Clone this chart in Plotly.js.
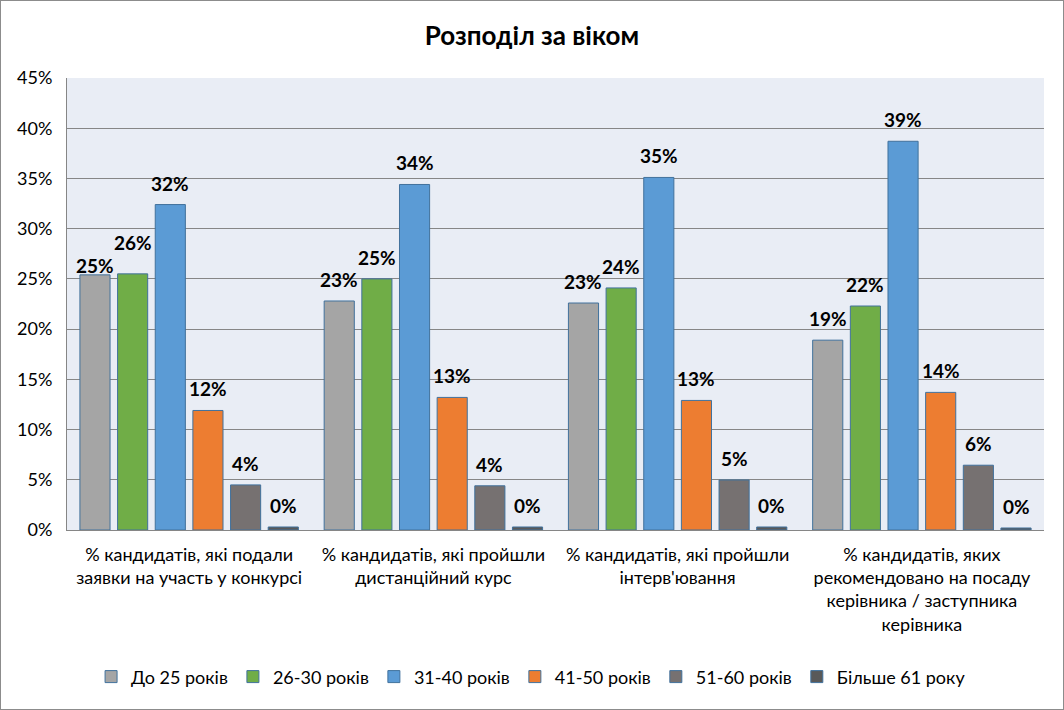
<!DOCTYPE html>
<html>
<head>
<meta charset="utf-8">
<script src="https://cdn.plot.ly/plotly-3.0.1.min.js"></script>
<style>
  html, body { margin: 0; padding: 0; background: #fff; }
  #wrap { position: relative; width: 1064px; height: 710px; }
  #chart { width: 1064px; height: 710px; }
  #frame { position: absolute; left: 0; top: 0; width: 1064px; height: 710px;
           box-sizing: border-box; border: 1px solid #8c8c8c; pointer-events: none; }
</style>
</head>
<body>
<div id="wrap">
  <div id="chart"></div>
  <div id="frame"></div>
</div>
<script>
// Categories (stages of the selection process)
const categories = [
  "% кандидатів, які подали<br>заявки на участь у конкурсі",
  "% кандидатів, які пройшли<br>дистанційний курс",
  "% кандидатів, які пройшли<br>інтерв'ювання",
  "% кандидатів, яких<br>рекомендовано на посаду<br>керівника / заступника<br>керівника"
];

// Age groups
const ageGroups = ["До 25 років", "26-30 років", "31-40 років", "41-50 років", "51-60 років", "Більше 61 року"];

// Shares per age group, one value per category
const under25   = [0.254, 0.228, 0.226, 0.189];
const age26to30 = [0.255, 0.250, 0.241, 0.223];
const age31to40 = [0.324, 0.344, 0.351, 0.387];
const age41to50 = [0.119, 0.132, 0.129, 0.137];
const age51to60 = [0.0449, 0.0440, 0.0498, 0.0645];
const over61    = [0.003, 0.003, 0.003, 0.002];

const seriesValues = [under25, age26to30, age31to40, age41to50, age51to60, over61];
const colors = ["#A5A5A5", "#70AD47", "#5B9BD5", "#ED7D31", "#767171", "#595959"];

const baseFont = "Lato, 'Noto Sans', 'Open Sans', sans-serif";

const W = 1064, H = 710;
const margin = { l: 67, r: 20, t: 78, b: 180 };
const bargap = 0.075, bargroupgap = 0.2;

// Two neighbouring labels in the first group are pulled apart so they don't collide
const labelNudgePx = { "0,0": -12, "1,0": 10 };

const traces = ageGroups.map((name, i) => ({
  type: "bar",
  name: name,
  x: categories,
  y: seriesValues[i],
  marker: { color: colors[i], line: { color: "#41719C", width: 1 } },
  hoverinfo: "skip"
}));

// Value labels above each bar: shifted sideways to the bar's slot within its group
const catWidthPx = (W - margin.l - margin.r) / categories.length;
const slotPx = catWidthPx * (1 - bargap) / ageGroups.length;
const annotations = [];
seriesValues.forEach((vals, i) => {
  vals.forEach((v, j) => {
    annotations.push({
      x: categories[j], y: v, xref: "x", yref: "y",
      xshift: (i - (ageGroups.length - 1) / 2) * slotPx,
      yshift: 8 + (labelNudgePx[i + "," + j] || 0),
      yanchor: "bottom", xanchor: "center",
      showarrow: false,
      text: "<b>" + Math.round(v * 100) + "%</b>",
      font: { family: baseFont, size: 19, color: "#000" }
    });
  });
});

const layout = {
  width: W,
  height: H,
  margin: margin,
  paper_bgcolor: "#ffffff",
  plot_bgcolor: "#E9EDF5",
  font: { family: baseFont, color: "#000" },
  title: {
    text: "<b>Розподіл за віком</b>",
    x: 0.5, xanchor: "center",
    y: 0.95, yanchor: "middle",
    font: { family: baseFont, size: 26, color: "#000" }
  },
  barmode: "group",
  bargap: bargap,
  bargroupgap: bargroupgap,
  showlegend: true,
  legend: {
    orientation: "h",
    x: 0.475, xanchor: "center",
    y: -0.325, yanchor: "middle",
    font: { family: baseFont, size: 18, color: "#000" },
    itemwidth: 30,
    traceorder: "normal"
  },
  annotations: annotations,
  xaxis: {
    type: "category",
    showline: true, linecolor: "#868686", linewidth: 1,
    ticks: "",
    ticklabelstandoff: 8,
    tickfont: { family: baseFont, size: 18, color: "#000" },
    tickangle: 0,
    automargin: false
  },
  yaxis: {
    range: [0, 0.45],
    dtick: 0.05,
    tickformat: ".0%",
    showline: true, linecolor: "#868686", linewidth: 1,
    gridcolor: "#868686", gridwidth: 1,
    zeroline: false,
    ticks: "",
    ticklabelstandoff: 10,
    tickfont: { family: baseFont, size: 18, color: "#000" },
    automargin: false
  }
};

Plotly.newPlot("chart", traces, layout, { displayModeBar: false, staticPlot: true });
</script>
</body>
</html>
